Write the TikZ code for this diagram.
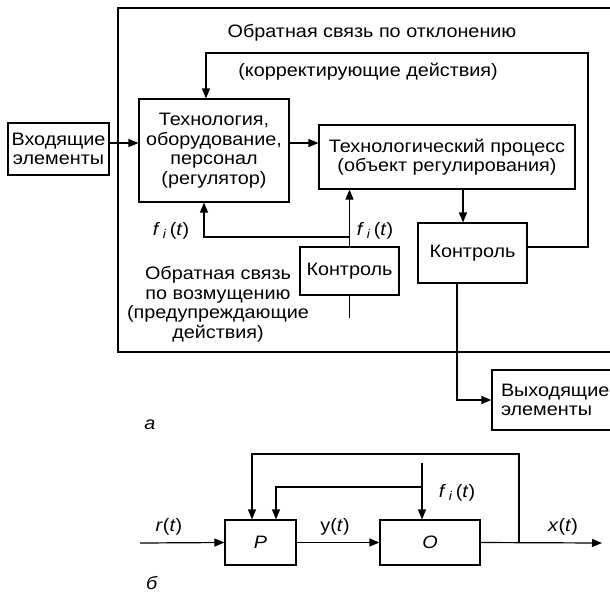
\documentclass[tikz,border=0pt]{standalone}
\usepackage{fontspec}
\setmainfont[FakeStretch=1.1]{Liberation Sans}
\usetikzlibrary{arrows.meta}
\begin{document}
\begin{tikzpicture}[x=1pt,y=-1pt,
  every node/.style={font=\fontsize{18}{19.5}\selectfont, inner sep=0pt},
  box/.style={draw, line width=1.2pt, align=center},
  lbl/.style={align=center},
  ln/.style={line width=1.2pt},
  arr/.style={line width=1.2pt, -{Triangle[length=10pt,width=8pt]}},
  fr/.style={line width=1.4pt}]
\useasboundingbox (0,0) rectangle (610,592);
% outer frame
\draw[fr] (618,8) -- (118,8) -- (118,352) -- (618,352);
% labels
\node[lbl] (t1) at (372,33) {Обратная связь по отклонению};
\node[lbl] (t2) at (368,72) {(корректирующие действия)};
% boxes
\node[box, minimum width=101, minimum height=52] (inbox) at (58.5,149) {Входящие\\элементы};
\node[box, minimum width=150, minimum height=103] (tech) at (214,150.5) {Технология,\\оборудование,\\персонал\\(регулятор)};
\node[box, minimum width=256, minimum height=64] (proc) at (447,157) {Технологический процесс\\(объект регулирования)};
\node[box, minimum width=109, minimum height=60] (ctrlR) at (472.5,253) {Контроль};
\node[box, minimum width=99, minimum height=48] (ctrlS) at (349.5,271) {Контроль};
\node[box, minimum height=60, text width=105, inner xsep=9pt, align=left] (outbox) at (553.5,400) {Выходящие\\элементы};
\node[lbl] (t3) at (218,304.5) {Обратная связь\\по возмущению\\(предупреждающие\\действия)};
\node[lbl] (fa) at (171,231) {\textit{f}\,\textsubscript{\textit{i}}\,(\textit{t})};
\node[lbl] (fb) at (375,231) {\textit{f}\,\textsubscript{\textit{i}}\,(\textit{t})};
\node[lbl] (la) at (150,425) {\textit{а}};
% coordinates
\coordinate (ay) at (0,143);
\coordinate (fbR) at (588,53);
\coordinate (fbL) at (206,53);
\coordinate (j1) at (349.5,237);
\coordinate (jL) at (204,237);
\coordinate (dIn) at (349.5,318);
\coordinate (pX) at (463,0);
\coordinate (oX) at (457,0);
% connectors
\draw[arr] (inbox.east |- ay) -- (tech.west |- ay);
\draw[arr] (tech.east |- ay) -- (proc.west |- ay);
\draw[arr] ([yshift=6pt]ctrlR.east) -| (fbR) -- (fbL) -- (fbL |- tech.north);
\draw[arr] (ctrlS.north) -- (ctrlS.north |- proc.south);
\draw[arr] (j1) -- (jL) -- (jL |- tech.south);
\draw[ln] (dIn) -- (ctrlS.south);
\draw[arr] (proc.south -| pX) -- (ctrlR.north -| pX);
\draw[arr] (ctrlR.south -| oX) |- (outbox.west);
% bottom diagram
\node[box, minimum width=71, minimum height=45] (P) at (260.5,542.5) {\textit{P}};
\node[box, minimum width=100, minimum height=45] (O) at (430,542.5) {\textit{O}};
\node[lbl] (lr) at (169,527) {\textit{r}(\textit{t})};
\node[lbl] (ly) at (335,527) {y(\textit{t})};
\node[lbl] (lx) at (563,527) {\textit{x}(\textit{t})};
\node[lbl] (lf) at (457,493) {\textit{f}\,\textsubscript{\textit{i}}\,(\textit{t})};
\node[lbl] (lb) at (152,583) {\textit{б}};
\coordinate (rin) at (140,543);
\coordinate (xout) at (602,543);
\coordinate (fb1) at (519,543);
\coordinate (fbTR) at (519,454);
\coordinate (fbTL) at (252,454);
\coordinate (fiTop) at (422,463);
\coordinate (fiJ) at (422,487);
\coordinate (fiL) at (276,487);
\draw[arr] (rin) -- (P.west);
\draw[arr] (P.east) -- (O.west);
\draw[arr] (O.east) -- (xout);
\draw[arr] (fb1) -- (fbTR) -- (fbTL) -- (fbTL |- P.north);
\draw[arr] (fiTop) -- (fiTop |- O.north);
\draw[arr] (fiJ) -- (fiL) -- (fiL |- P.north);
\end{tikzpicture}
\end{document}
